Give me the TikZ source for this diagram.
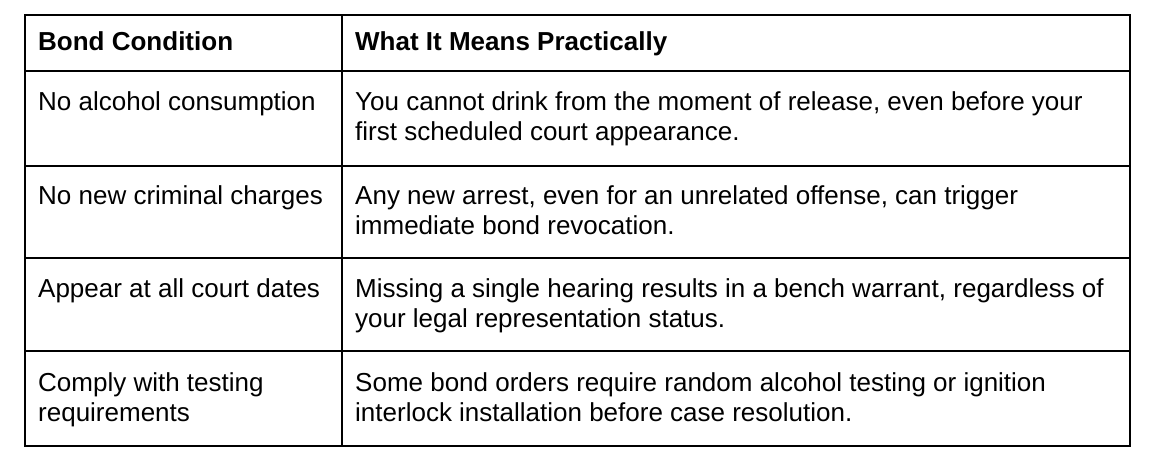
\documentclass[tikz,border=0pt]{standalone}
\usepackage{fontspec}
\setmainfont{Liberation Sans}
\usetikzlibrary{math}
\tikzset{cell/.style={anchor=base west, inner sep=0pt, font=\fontsize{26}{30}\selectfont, align=left},
  head/.style={cell, font=\fontsize{26}{30}\selectfont\bfseries},
  rule/.style={line width=1.3pt}}
\begin{document}
\begin{tikzpicture}[x=1pt, y=-1pt]
  \useasboundingbox (0,0) rectangle (1151,466);
  \tikzmath{\xl = 25; \xm = 342; \xr = 1130;}

  % grid
  \draw[rule] (\xl,15) rectangle (\xr,446);
  \draw[rule] (\xm,15) -- (\xm,446);
  \foreach \y in {71, 166, 258, 351} {
    \draw[rule] (\xl,\y) -- (\xr,\y);
  }

  % header
  \node[head] (h1) at (38,50) {Bond Condition};
  \node[head] (h2) at (355,50) {What It Means Practically};

  % rows (two-line cells sit on their last baseline)
  \node[cell] (c1) at (38,110) {No alcohol consumption};
  \node[cell] (m1) at (355,140) {You cannot drink from the moment of release, even before your\\first scheduled court appearance.};
  \node[cell] (c2) at (38,204) {No new criminal charges};
  \node[cell] (m2) at (355,234) {Any new arrest, even for an unrelated offense, can trigger\\immediate bond revocation.};
  \node[cell] (c3) at (38,297) {Appear at all court dates};
  \node[cell] (m3) at (355,327) {Missing a single hearing results in a bench warrant, regardless of\\your legal representation status.};
  \node[cell] (c4) at (38,421) {Comply with testing\\requirements};
  \node[cell] (m4) at (355,421) {Some bond orders require random alcohol testing or ignition\\interlock installation before case resolution.};
\end{tikzpicture}
\end{document}
